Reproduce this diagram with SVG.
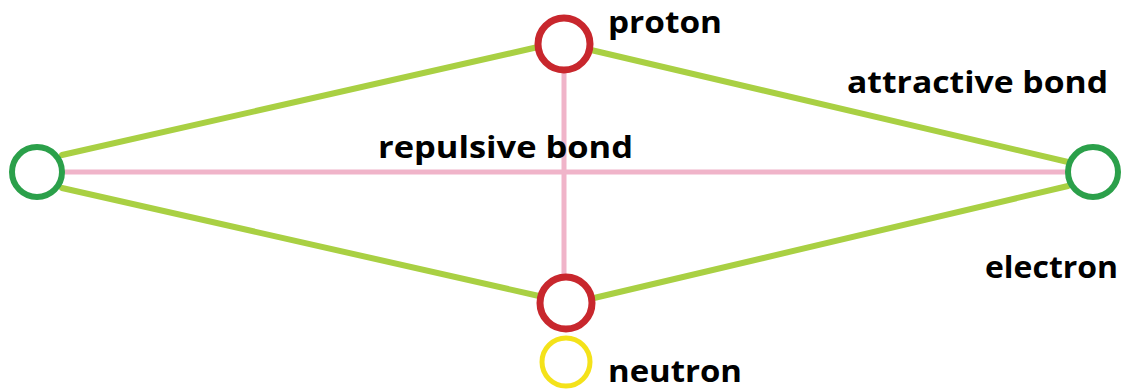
<svg xmlns="http://www.w3.org/2000/svg" width="1131" height="391" viewBox="0 0 1131 391">
<style>
.attr{stroke:#a9d043;stroke-width:6;fill:none;stroke-linecap:round}
.rep{stroke:#f0b4c9;stroke-width:5;fill:none}
.proton{fill:none;stroke:#c8272d;stroke-width:7}
.electron{fill:none;stroke:#2ba04a;stroke-width:6}
.neutron{fill:none;stroke:#f4e21a;stroke-width:5}
.lbl{font-family:"Open Sans","Liberation Sans",sans-serif;font-weight:bold;font-size:30px;fill:#000}
</style>
<rect width="1131" height="391" fill="#ffffff"/>
<g id="connectors">
<line class="rep" x1="64" y1="172" x2="1067" y2="172"/>
<line class="rep" x1="564" y1="72" x2="564" y2="276"/>
<line class="attr" x1="62" y1="155" x2="538" y2="47"/>
<line class="attr" x1="591" y1="50" x2="1068" y2="162"/>
<line class="attr" x1="62" y1="188" x2="539" y2="296"/>
<line class="attr" x1="594" y1="298" x2="1068" y2="186"/>
</g>
<g id="proton-top"><circle class="proton" cx="564" cy="44" r="26"/></g>
<g id="proton-bottom"><circle class="proton" cx="566" cy="303" r="26"/></g>
<g id="electron-left"><circle class="electron" cx="37" cy="172" r="25"/></g>
<g id="electron-right"><circle class="electron" cx="1093" cy="172" r="25"/></g>
<g id="neutron"><circle class="neutron" cx="566" cy="362" r="24"/></g>
<g id="labels">
<text class="lbl" x="608" y="33" textLength="114" lengthAdjust="spacingAndGlyphs">proton</text>
<text class="lbl" x="847" y="93" textLength="261" lengthAdjust="spacingAndGlyphs">attractive bond</text>
<text class="lbl" x="378" y="158" textLength="255" lengthAdjust="spacingAndGlyphs">repulsive bond</text>
<text class="lbl" x="985" y="278" textLength="133" lengthAdjust="spacingAndGlyphs">electron</text>
<text class="lbl" x="608" y="382" textLength="134" lengthAdjust="spacingAndGlyphs">neutron</text>
</g>
</svg>
